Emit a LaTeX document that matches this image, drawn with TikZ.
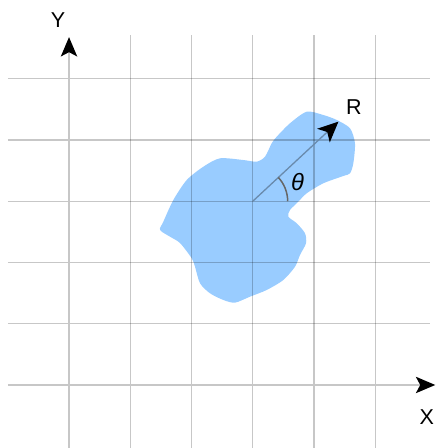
\documentclass[tikz,border=0pt]{standalone}
\usepackage{fontspec}
\setmainfont{Liberation Sans}
\usetikzlibrary{arrows.meta, calc}
\tikzset{>=Stealth}

\definecolor{blobblue}{RGB}{153,204,255}
\definecolor{rline}{RGB}{105,138,172}

\begin{document}
\begin{tikzpicture}

         %%%%%%%%%%%%%%%%%%%%%%%%%%%%%%%%%%%%%%%%%%%%%%%%%%%%%%%%%%%%%%%%%%%%%%
         % Parameter
         %%%%%%%%%%%%%%%%%%%%%%%%%%%%%%%%%%%%%%%%%%%%%%%%%%%%%%%%%%%%%%%%%%%%%%
         \def\xmin{-1}
         \def\xmax{5.9}
         \def\yunten{-1.03}
         \def\yoben{5.71}
         \def\thetaradius{0.57}
         \def\rwinkel{42.9}
         \def\rlaenge{1.91}

         % Stile für Gitter, Achsen und Beschriftung
         \tikzset{
            gridline/.style={
            black, draw opacity=0.22, line width=0.65pt
            },
            axisline/.style={
            black!22, line width=0.65pt,
            -{Stealth[black, length=9pt, width=7.6pt, inset=2pt]}
            },
            letter/.style={
            font=\fontsize{10}{12}\selectfont, inner sep=0pt
            }
         }

         \useasboundingbox (-1.127,-1.029) rectangle (6.024,6.286);

         %%%%%%%%%%%%%%%%%%%%%%%%%%%%%%%%%%%%%%%%%%%%%%%%%%%%%%%%%%%%%%%%%%%%%%
         % Fläche
         %%%%%%%%%%%%%%%%%%%%%%%%%%%%%%%%%%%%%%%%%%%%%%%%%%%%%%%%%%%%%%%%%%%%%%
         \fill[blobblue] plot[smooth cycle, tension=0.45] coordinates {
            (3.881,4.462) (4.152,4.408) (4.371,4.327) (4.588,4.191)
            (4.669,3.946) (4.642,3.620) (4.588,3.456) (4.478,3.412)
            (4.152,3.293) (3.881,3.130) (3.744,2.993) (3.608,2.857)
            (3.580,2.748) (3.718,2.640) (3.853,2.477) (3.869,2.313)
            (3.771,2.122) (3.690,1.931) (3.499,1.714) (3.228,1.551)
            (2.955,1.442) (2.710,1.344) (2.519,1.388) (2.302,1.497)
            (2.139,1.660) (2.057,1.931) (2.003,2.069) (1.812,2.318)
            (1.649,2.421) (1.486,2.531) (1.540,2.666) (1.703,3.020)
            (1.922,3.347) (2.193,3.564) (2.465,3.701) (2.846,3.673)
            (3.064,3.646) (3.200,3.727) (3.309,3.946) (3.391,4.054)
            (3.608,4.273)
         };

         %%%%%%%%%%%%%%%%%%%%%%%%%%%%%%%%%%%%%%%%%%%%%%%%%%%%%%%%%%%%%%%%%%%%%%
         % Gitter
         %%%%%%%%%%%%%%%%%%%%%%%%%%%%%%%%%%%%%%%%%%%%%%%%%%%%%%%%%%%%%%%%%%%%%%
         \foreach \i in {1,...,5} {
            \draw[gridline] (\i,\yunten) -- (\i,\yoben);
            \draw[gridline] (\xmin,\i) -- (\xmax,\i);
         }

         %%%%%%%%%%%%%%%%%%%%%%%%%%%%%%%%%%%%%%%%%%%%%%%%%%%%%%%%%%%%%%%%%%%%%%
         % Achsen X und Y
         %%%%%%%%%%%%%%%%%%%%%%%%%%%%%%%%%%%%%%%%%%%%%%%%%%%%%%%%%%%%%%%%%%%%%%
         \coordinate (XStart) at (\xmin,0);
         \coordinate (XEnd)   at (5.98,0);
         \coordinate (YStart) at (0,\yunten);
         \coordinate (YEnd)   at (0,5.68);

         \draw[axisline] (XStart) -- (XEnd);
         \draw[axisline] (YStart) -- (YEnd);

         \node[letter] (xlabel) at (5.84,-0.52) {X};
         \node[letter] (ylabel) at (-0.18,5.96) {Y};

         %%%%%%%%%%%%%%%%%%%%%%%%%%%%%%%%%%%%%%%%%%%%%%%%%%%%%%%%%%%%%%%%%%%%%%
         % Radius R und Winkel theta
         %%%%%%%%%%%%%%%%%%%%%%%%%%%%%%%%%%%%%%%%%%%%%%%%%%%%%%%%%%%%%%%%%%%%%%
         \coordinate (Center) at (3,3);
         \coordinate (RTip)   at ($(Center)+(\rwinkel:\rlaenge)$);

         \draw[rline, line width=0.6pt,
            -{Stealth[black, length=9.5pt, width=8.6pt, inset=2.4pt]}]
         (Center) -- (RTip);

         % Bogen von 0° bis zur Richtung von R
         \draw[black!60, line width=0.7pt]
         (Center) ++(0:\thetaradius) arc (0:\rwinkel:\thetaradius);

         \node[letter] (rlabel) at (4.65,4.54) {R};
         \node[inner sep=0pt, font=\fontsize{11}{13}\selectfont]
         (thetalabel) at (3.73,3.32) {\textit{θ}};

\end{tikzpicture}
\end{document}
